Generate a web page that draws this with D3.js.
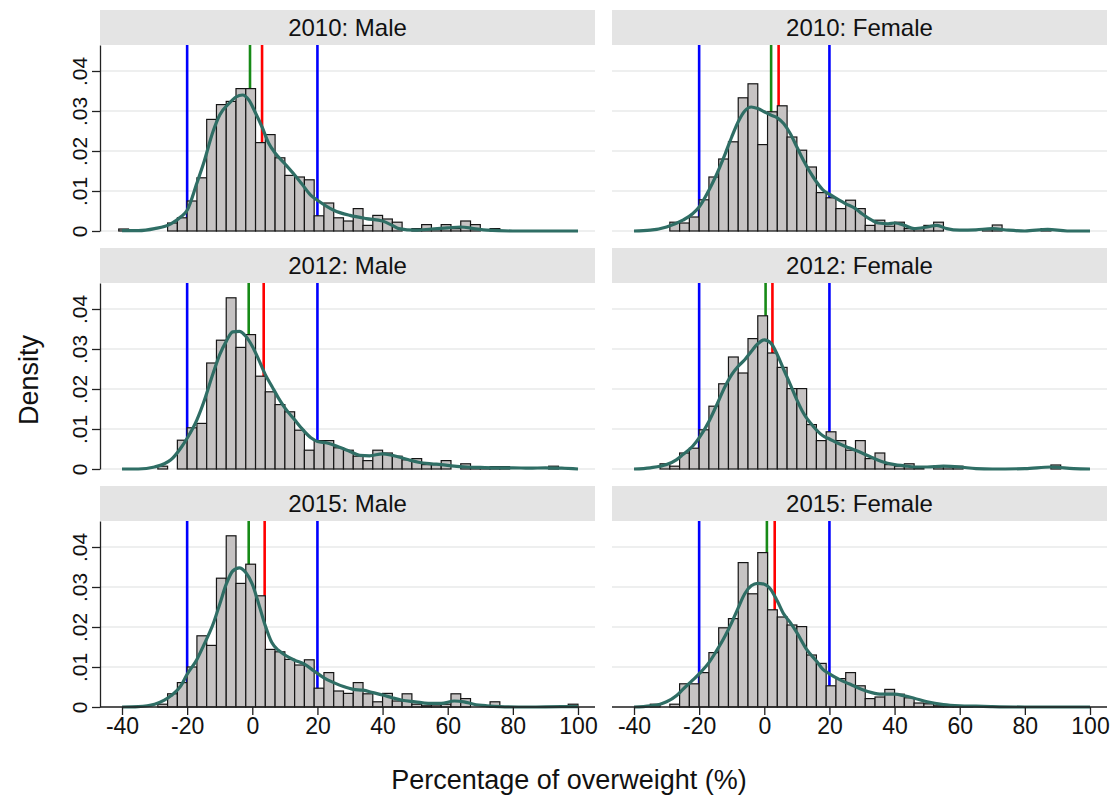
<html>
<head>
  <meta charset="utf-8">
  <script src="https://d3js.org/d3.v7.min.js"></script>
  <style>
    body { margin: 0; background: white; }
    text { font-family: "Liberation Sans", Arial, sans-serif; fill: #111; }
  </style>
</head>
<body>
  <svg id="chart" width="1110" height="795"></svg>
  <script>
    // histogram bins: width 3, first edge at -41
    const binStart = -41;
    const binWidth = 3;

    const panelTitles = ["2010: Male", "2010: Female", "2012: Male", "2012: Female", "2015: Male", "2015: Female"];

    const bins2010Male = [.0005, 0, 0, 0, 0, .002, .0033, .0075, .0133, .0279, .0316, .0324, .0356, .0356, .0221, .0241,
      .0183, .0139, .0135, .0128, .0038, .007, .0033, .0025, .0056, .0014, .0039, .003, .0022, 0, .0006, .0016,
      .0006, .0016, .0006, .0025, .0016, 0, .0006, 0, 0, 0, 0, 0, 0, 0, 0];
    const bins2010Female = [0, 0, 0, 0, .0022, .002, .0035, .0078, .0135, .018, .0223, .0333, .0368, .0216, .0298, .0313,
      .0235, .0202, .016, .0096, .0083, .0056, .0077, .0056, .0014, .0027, .0012, .0022, .0006, .0006, .0014, .0022,
      0, 0, 0, 0, .0006, .0015, 0, 0, 0, 0, .0006, 0, 0, 0, 0];
    const bins2012Male = [0, 0, 0, 0, .0007, 0, .0072, .0103, .0114, .0265, .0322, .0428, .0304, .0336, .0232, .0193,
      .0161, .0143, .0097, .0047, .0071, .0071, .0053, .0047, .0032, .0021, .0047, .004, .0032, .0023, .0026, .0011,
      .0011, .0021, 0, .0013, .0006, .0004, .0006, .0006, 0, 0, 0, 0, .0007, 0, 0];
    const bins2012Female = [0, 0, 0, .0013, .0007, .004, .0052, .0098, .0157, .0213, .028, .024, .0326, .0383, .029, .0254,
      .0201, .0201, .0111, .0071, .0093, .0071, .0047, .0071, .0026, .004, .0011, .0007, .0013, .0003, 0, .0007,
      .0007, .0007, 0, 0, 0, 0, 0, 0, 0, 0, 0, .001, 0, 0, 0];
    const bins2015Male = [0, 0, 0, 0, .0007, .0033, .0061, .01, .0178, .0154, .0322, .0428, .0309, .0357, .0278, .0144,
      .0138, .0119, .0105, .0118, .0047, .0086, .004, .0034, .0061, .0033, .0013, .0034, .0015, .0033, .0007, .0003,
      .0005, .0007, .0033, .0021, 0, 0, .0013, 0, 0, 0, 0, 0, 0, 0, .0007];
    const bins2015Female = [0, 0, .0007, 0, .0007, .0058, .0058, .0086, .0136, .0198, .0221, .0361, .0283, .0386, .0243, .0225,
      .0205, .0201, .013, .0109, .0053, .0071, .0086, .0053, .0021, .0025, .0044, .0032, .0023, .001, .0008, .0003,
      .0003, .0003, .0003, 0, 0, 0, 0, 0, 0, 0, 0, 0, 0, 0, 0];

    // kernel density curves: [value, density]
    const kde2010Male = [[-40, .0001], [-35, .0001], [-30, .0006], [-25, .0018], [-22, .0035], [-20, .0052], [-17, .012],
      [-15, .0168], [-12, .025], [-10, .029], [-7, .032], [-5, .0335], [-3, .034], [-1, .0327], [1, .0295], [3, .026],
      [5, .022], [7, .0195], [10, .0168], [13, .014], [15, .012], [18, .0089], [20, .0077], [25, .0052], [30, .0039],
      [35, .0031], [40, .0025], [43, .0014], [45, .0006], [50, .0002], [55, .0005], [60, .0008], [64, .001],
      [68, .0006], [72, .0002], [80, 0], [100, 0]];
    const kde2010Female = [[-40, 0], [-35, .0002], [-30, .001], [-25, .0027], [-22, .0043], [-20, .006], [-17, .0102],
      [-15, .0135], [-12, .0193], [-10, .0235], [-8, .0273], [-6, .03], [-4, .031], [-2, .0306], [0, .0298], [2, .029],
      [4, .0283], [6, .0268], [8, .0243], [10, .021], [12, .0177], [15, .0135], [18, .0103], [20, .0092], [23, .0077],
      [25, .0068], [28, .0056], [30, .0043], [33, .0027], [35, .002], [38, .0018], [40, .002], [43, .0014], [46, .0006],
      [50, .001], [53, .0014], [56, .0006], [60, .0002], [65, .0003], [70, .0006], [75, .0002], [80, 0], [87, .0004],
      [93, 0], [100, 0]];
    const kde2012Male = [[-40, 0], [-35, 0], [-30, .0005], [-27, .0013], [-25, .0023], [-22, .0052], [-20, .0077],
      [-17, .0123], [-15, .0165], [-12, .024], [-10, .0286], [-8, .0319], [-6, .0343], [-4, .0344], [-2, .0332],
      [0, .0307], [2, .0273], [4, .0236], [6, .0207], [8, .0178], [10, .0153], [13, .0123], [15, .0103], [18, .0078],
      [20, .0069], [23, .0065], [26, .0057], [30, .0044], [33, .0034], [36, .0033], [40, .0038], [43, .0034],
      [45, .003], [48, .0023], [51, .0017], [55, .0013], [58, .0011], [62, .0007], [66, .0005], [70, .0004],
      [75, .0003], [80, .0003], [85, .0002], [90, .0003], [95, .0002], [100, 0]];
    const kde2012Female = [[-40, 0], [-35, .0003], [-30, .0011], [-27, .0023], [-25, .0036], [-22, .0057], [-20, .0078],
      [-17, .0119], [-15, .0153], [-12, .0207], [-10, .0236], [-8, .0257], [-6, .0273], [-4, .0294], [-2, .0313],
      [0, .0323], [2, .0315], [4, .0286], [6, .0248], [8, .0211], [10, .0173], [12, .014], [15, .0107], [18, .0083],
      [20, .0075], [23, .0063], [26, .0053], [30, .004], [33, .0029], [36, .0019], [40, .0011], [43, .0008],
      [46, .0005], [50, .0005], [55, .0007], [60, .0005], [65, .0001], [70, 0], [80, .0001], [88, .0005],
      [95, .0001], [100, 0]];
    const kde2015Male = [[-40, 0], [-35, .0001], [-30, .0007], [-27, .0017], [-25, .0028], [-22, .0052], [-20, .0082],
      [-17, .0119], [-15, .0153], [-12, .0208], [-10, .0257], [-8, .0307], [-6, .034], [-4, .0348], [-2, .0336],
      [0, .0307], [2, .0257], [4, .0203], [6, .0161], [8, .0142], [10, .013], [13, .0117], [16, .0107], [19, .009],
      [22, .0073], [25, .0061], [28, .0051], [31, .0044], [34, .0042], [37, .0036], [40, .003], [43, .0023],
      [46, .0017], [50, .0013], [54, .0009], [58, .0009], [62, .0015], [65, .0013], [68, .0007], [72, .0003],
      [76, .0001], [85, 0], [95, .0001], [100, .0001]];
    const kde2015Female = [[-40, 0], [-35, .0003], [-32, .0007], [-30, .0013], [-27, .0028], [-25, .0044], [-22, .0067],
      [-20, .0083], [-17, .0111], [-15, .0136], [-12, .0178], [-10, .0211], [-8, .0248], [-6, .0283], [-4, .0303],
      [-2, .0309], [0, .0307], [2, .0294], [4, .0265], [6, .0232], [8, .0211], [10, .0186], [13, .0144], [16, .0115],
      [18, .0094], [20, .0083], [23, .0069], [26, .0058], [30, .0044], [33, .0036], [36, .0032], [40, .0032],
      [43, .0028], [46, .0022], [50, .0013], [55, .0006], [60, .0003], [65, .0002], [70, .0001], [80, 0], [100, 0]];

    const medianValues = [-0.7, 2.1, -1.1, 0.4, -1.1, 0.8];   // green lines
    const meanValues = [3.0, 4.4, 3.5, 2.5, 3.8, 3.2];        // red lines
    const cutoffValues = [-20, 20];                           // blue lines

    const xTicks = [-40, -20, 0, 20, 40, 60, 80, 100];
    const yTicks = [0, .01, .02, .03, .04];

    const binSets = [bins2010Male, bins2010Female, bins2012Male, bins2012Female, bins2015Male, bins2015Female];
    const kdeSets = [kde2010Male, kde2010Female, kde2012Male, kde2012Female, kde2015Male, kde2015Female];

    const svg = d3.select("#chart");
    const colX = [100, 612];
    const panelWidth = 495;
    const rowY = [10, 248, 486];
    const headerHeight = 35;
    const plotHeight = 186;

    panelTitles.forEach((title, i) => {
      const col = i % 2, row = Math.floor(i / 2);
      const left = colX[col];
      const top = rowY[row] + headerHeight;
      const baseline = top + plotHeight;

      const x = d3.scaleLinear().domain([-40, 100]).range([left + 22, left + 478]);
      const y = d3.scaleLinear().domain([0, 0.0465]).range([baseline, top]);

      const g = svg.append("g");

      // header strip
      g.append("rect")
        .attr("x", left).attr("y", rowY[row])
        .attr("width", panelWidth).attr("height", headerHeight)
        .attr("fill", "#e4e4e4");
      g.append("text")
        .attr("x", left + panelWidth / 2).attr("y", rowY[row] + 26)
        .attr("text-anchor", "middle")
        .attr("font-size", 24)
        .text(title);

      // gridlines
      g.selectAll("line.grid").data(yTicks).join("line")
        .attr("class", "grid")
        .attr("x1", left).attr("x2", left + panelWidth)
        .attr("y1", d => y(d)).attr("y2", d => y(d))
        .attr("stroke", "#e8eaea").attr("stroke-width", 1.5);

      // reference lines (behind bars)
      const refs = cutoffValues.map(v => ({ v: v, c: "#0000ff" }))
        .concat([{ v: medianValues[i], c: "#178a17" }, { v: meanValues[i], c: "#ff0000" }]);
      g.selectAll("line.ref").data(refs).join("line")
        .attr("class", "ref")
        .attr("x1", d => x(d.v)).attr("x2", d => x(d.v))
        .attr("y1", top).attr("y2", baseline)
        .attr("stroke", d => d.c).attr("stroke-width", 2.6);

      // bars
      const bars = binSets[i].map((d, k) => ({ x0: binStart + k * binWidth, x1: binStart + (k + 1) * binWidth, d: d }))
        .filter(b => b.d > 0);
      g.selectAll("rect.bar").data(bars).join("rect")
        .attr("class", "bar")
        .attr("x", b => x(b.x0))
        .attr("width", b => x(b.x1) - x(b.x0))
        .attr("y", b => y(b.d))
        .attr("height", b => baseline - y(b.d))
        .attr("fill", "#c6c3c3")
        .attr("stroke", "#151515").attr("stroke-width", 1.2);

      // density curve
      const line = d3.line()
        .x(d => x(d[0])).y(d => y(d[1]))
        .curve(d3.curveMonotoneX);
      g.append("path")
        .datum(kdeSets[i])
        .attr("d", line)
        .attr("fill", "none")
        .attr("stroke", "#2f6e65")
        .attr("stroke-width", 3.2)
        .attr("stroke-linejoin", "round");

      // y axis on the left column
      if (col === 0) {
        const yAxis = d3.axisLeft(y).tickValues(yTicks).tickSize(8).tickSizeOuter(0)
          .tickFormat(d => d === 0 ? "0" : d3.format(".2f")(d).replace(/^0/, ""));
        const ya = g.append("g")
          .attr("transform", `translate(${left},0)`)
          .call(yAxis);
        ya.select(".domain").attr("stroke", "#222").attr("stroke-width", 1.3);
        ya.selectAll(".tick line").attr("stroke", "#222").attr("stroke-width", 1.3);
        ya.selectAll(".tick text")
          .attr("transform", "rotate(-90)")
          .attr("x", 0).attr("y", -13).attr("dy", 0)
          .attr("text-anchor", "middle")
          .attr("font-size", 21)
          .attr("font-family", "Liberation Sans, Arial, sans-serif")
          .attr("fill", "#111");
      }

      // x axis on the bottom row
      if (row === 2) {
        g.append("line")
          .attr("x1", left).attr("x2", left + panelWidth)
          .attr("y1", baseline).attr("y2", baseline)
          .attr("stroke", "#222").attr("stroke-width", 1.3);
        const xAxis = d3.axisBottom(x).tickValues(xTicks).tickSize(8).tickSizeOuter(0)
          .tickFormat(d => String(d));
        const xa = g.append("g")
          .attr("transform", `translate(0,${baseline})`)
          .call(xAxis);
        xa.select(".domain").remove();
        xa.selectAll(".tick line").attr("stroke", "#222").attr("stroke-width", 1.3);
        xa.selectAll(".tick text")
          .attr("font-size", 23)
          .attr("font-family", "Liberation Sans, Arial, sans-serif")
          .attr("fill", "#111");
      }
    });

    // axis titles
    svg.append("text")
      .attr("transform", "translate(38,380) rotate(-90)")
      .attr("text-anchor", "middle")
      .attr("font-size", 27)
      .text("Density");
    svg.append("text")
      .attr("x", 569).attr("y", 789)
      .attr("text-anchor", "middle")
      .attr("font-size", 27)
      .text("Percentage of overweight (%)");
  </script>
</body>
</html>
